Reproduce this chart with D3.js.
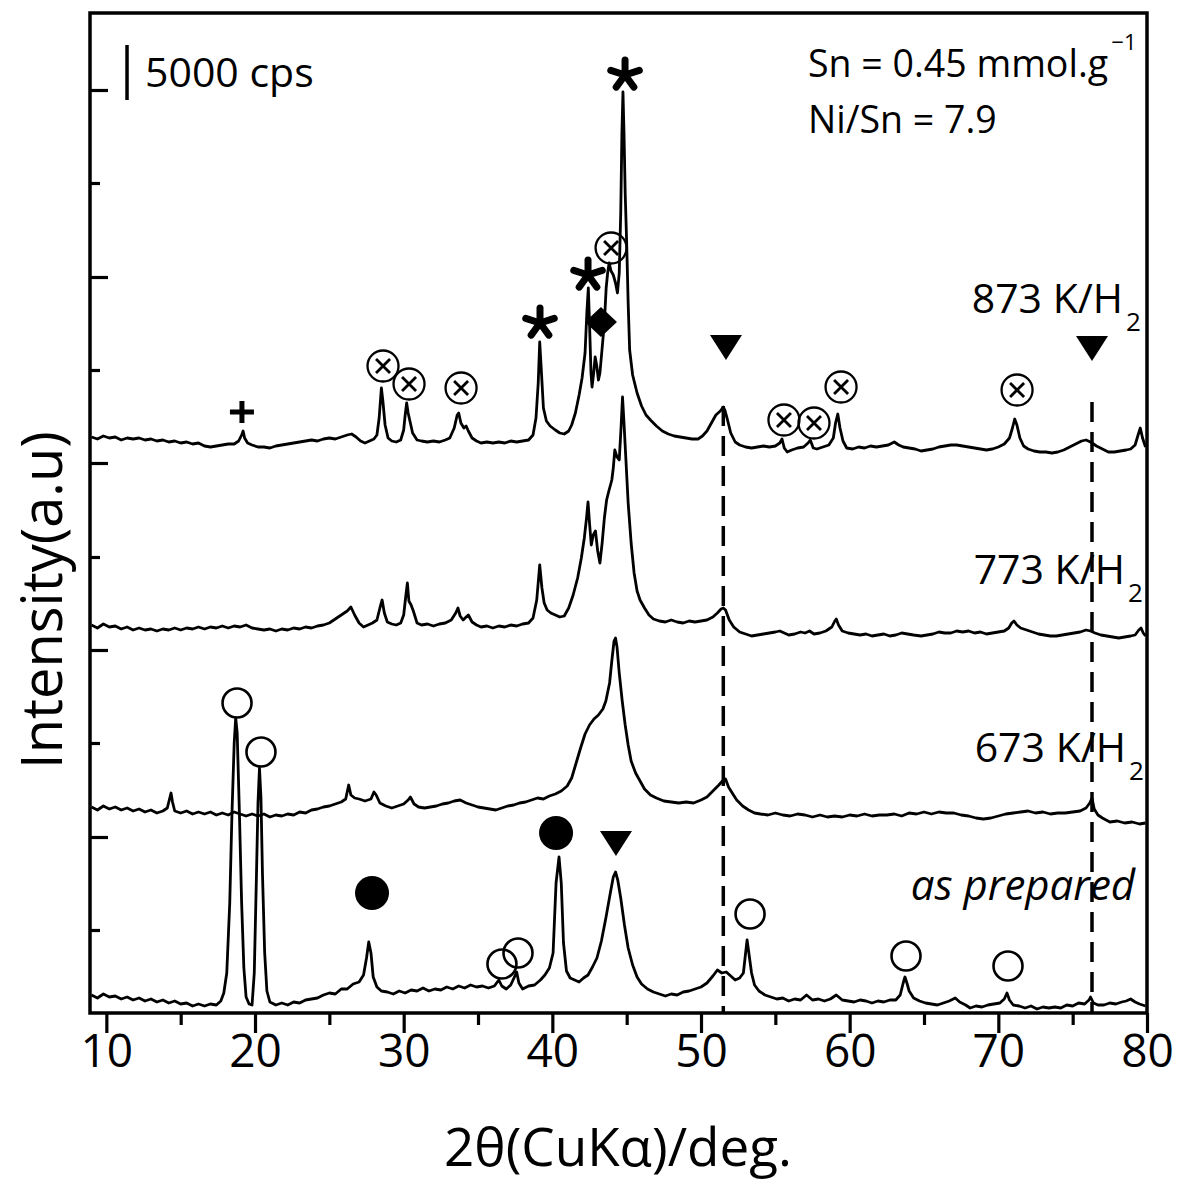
<!DOCTYPE html>
<html><head><meta charset="utf-8">
<script src="https://cdn.jsdelivr.net/npm/d3@7"></script>
<style>
body{margin:0;background:#fff}
svg{display:block}
text{font-family:"Open Sans",sans-serif;fill:#000}
</style>
</head><body>
<svg id="c" width="1182" height="1184"></svg>
<script>
// ---------------- data ----------------
const xDomain = [8.9, 80];
const yDomain = [0, 1000];
const xTicksMajor = [10, 20, 30, 40, 50, 60, 70, 80];
const xTicksMinor = [15, 25, 35, 45, 55, 65, 75];
const yTicksMajor = [176, 363, 550, 736, 923];
const yTicksMinor = [83, 270, 456, 643, 830];
const xTitle = "2θ(CuKα)/deg.";
const yTitle = "Intensity(a.u)";
const scaleBarValue = 55;            // intensity units equal to 5000 cps
const scaleBarLabel = "5000 cps";
const infoLines = ["Sn = 0.45 mmol.g", "Ni/Sn = 7.9"];

const seriesLabels = ["as prepared", "673 K/H", "773 K/H", "873 K/H"];
const labelAnchors = [[79.2, 113], [78.59, 251], [78.52, 429], [78.39, 700]];

const asPrepared = [[9.0,18],[9.4,15],[9.8,19],[10.2,16],[10.6,17],[11.0,14],[11.4,16],[11.8,13],[12.2,15],[12.6,12],[13.0,14],[13.4,11],[13.8,13],[14.2,10],[14.6,12],[15.0,9],[15.4,10],[15.8,7],[16.2,9],[16.6,7],[17.0,9],[17.4,8],[17.7,12],[17.9,20],[18.1,40],[18.3,110],[18.45,200],[18.6,270],[18.7,295],[18.8,280],[18.95,200],[19.1,110],[19.25,45],[19.4,16],[19.6,9],[19.8,8],[19.95,40],[20.1,140],[20.2,210],[20.3,245],[20.4,215],[20.5,140],[20.65,60],[20.8,22],[21.0,11],[21.4,8],[21.8,10],[22.2,8],[22.6,11],[23.0,10],[23.4,13],[23.8,14],[24.2,15],[24.6,18],[25.0,20],[25.4,19],[25.8,24],[26.2,24],[26.6,29],[27.0,31],[27.3,38],[27.5,55],[27.65,71],[27.8,60],[27.95,36],[28.2,26],[28.5,22],[28.9,21],[29.3,19],[29.7,22],[30.1,20],[30.5,23],[30.9,22],[31.3,25],[31.7,22],[32.1,24],[32.5,23],[32.9,26],[33.3,24],[33.7,27],[34.1,25],[34.5,28],[34.9,26],[35.3,27],[35.7,25],[36.1,27],[36.4,33],[36.6,27],[36.9,24],[37.2,28],[37.45,36],[37.6,41],[37.75,30],[38.0,24],[38.4,27],[38.8,28],[39.2,33],[39.5,38],[39.8,45],[40.05,60],[40.25,130],[40.45,156],[40.6,130],[40.75,70],[40.95,42],[41.2,35],[41.5,33],[41.8,31],[42.1,35],[42.4,38],[42.7,46],[43.0,55],[43.3,72],[43.6,95],[43.9,120],[44.1,136],[44.25,141],[44.4,133],[44.6,115],[44.85,88],[45.1,65],[45.4,48],[45.7,36],[46.0,29],[46.4,24],[46.8,21],[47.2,19],[47.6,17],[48.0,19],[48.4,18],[48.8,21],[49.2,22],[49.6,24],[50.0,26],[50.4,30],[50.8,37],[51.1,43],[51.4,40],[51.7,41],[52.0,37],[52.3,33],[52.6,35],[52.85,40],[53.0,60],[53.1,73],[53.2,62],[53.4,40],[53.6,28],[53.9,22],[54.3,18],[54.7,16],[55.1,14],[55.5,15],[55.9,12],[56.3,14],[56.7,13],[57.1,18],[57.5,13],[57.9,14],[58.3,12],[58.7,14],[59.1,18],[59.5,13],[59.9,12],[60.3,11],[60.7,13],[61.1,12],[61.5,10],[61.9,12],[62.3,11],[62.7,13],[63.1,13],[63.4,18],[63.6,30],[63.72,36],[63.85,30],[64.0,22],[64.3,15],[64.7,12],[65.1,10],[65.5,9],[65.9,8],[66.3,10],[66.7,12],[67.1,15],[67.4,11],[67.8,8],[68.1,5],[68.5,7],[68.9,6],[69.3,8],[69.7,9],[70.1,10],[70.4,14],[70.58,20],[70.75,13],[71.0,8],[71.4,7],[71.8,5],[72.2,7],[72.6,4],[73.0,6],[73.4,5],[73.8,6],[74.2,5],[74.6,8],[75.0,7],[75.4,10],[75.8,9],[76.1,13],[76.2,16],[76.4,10],[76.7,8],[77.1,8],[77.5,10],[77.9,9],[78.3,11],[78.6,12],[78.9,14],[79.2,11],[79.5,9],[79.9,7]];

const h673 = [[9.0,206],[9.4,203],[9.8,207],[10.2,204],[10.6,206],[11.0,203],[11.4,205],[11.8,202],[12.2,204],[12.6,201],[13.0,203],[13.4,200],[13.8,202],[14.1,205],[14.25,214],[14.35,220],[14.45,211],[14.6,202],[15.0,200],[15.4,202],[15.8,199],[16.2,201],[16.6,199],[17.0,201],[17.4,198],[17.8,200],[18.2,198],[18.6,201],[19.0,199],[19.4,197],[19.8,199],[20.2,197],[20.6,199],[21.0,196],[21.4,198],[21.8,197],[22.2,199],[22.6,198],[23.0,201],[23.4,200],[23.8,203],[24.2,204],[24.6,206],[25.0,207],[25.4,209],[25.8,211],[26.1,214],[26.3,228],[26.45,218],[26.7,215],[27.0,214],[27.4,212],[27.8,214],[28.0,221],[28.15,218],[28.4,210],[28.8,207],[29.2,205],[29.6,207],[30.0,209],[30.3,213],[30.45,216],[30.7,209],[31.0,206],[31.4,205],[31.8,206],[32.2,207],[32.6,209],[33.0,210],[33.4,212],[33.8,213],[34.2,210],[34.6,208],[35.0,206],[35.4,205],[35.8,204],[36.2,203],[36.6,205],[37.0,207],[37.4,208],[37.8,210],[38.2,211],[38.6,213],[39.0,215],[39.4,214],[39.8,217],[40.2,219],[40.6,222],[41.0,227],[41.3,235],[41.6,250],[41.9,265],[42.2,279],[42.5,288],[42.8,294],[43.1,298],[43.4,304],[43.6,312],[43.85,330],[44.0,352],[44.15,372],[44.25,375],[44.35,366],[44.5,340],[44.7,312],[44.9,288],[45.1,268],[45.3,252],[45.6,240],[45.9,232],[46.2,224],[46.6,218],[47.0,215],[47.5,212],[48.0,211],[48.5,210],[49.0,211],[49.5,210],[50.0,213],[50.4,216],[50.8,222],[51.2,228],[51.5,233],[51.65,234],[51.85,226],[52.1,220],[52.4,213],[52.8,207],[53.2,203],[53.6,200],[54.0,199],[54.5,198],[55.0,200],[55.5,198],[56.0,197],[56.5,199],[57.0,198],[57.5,196],[58.0,198],[58.5,196],[59.0,197],[59.5,196],[60.0,198],[60.5,197],[61.0,199],[61.5,197],[62.0,198],[62.5,198],[63.0,199],[63.5,197],[64.0,200],[64.5,199],[65.0,201],[65.5,199],[66.0,201],[66.5,200],[67.0,200],[67.5,198],[68.0,197],[68.5,195],[69.0,194],[69.5,195],[70.0,197],[70.5,199],[71.0,200],[71.5,201],[72.0,202],[72.5,200],[73.0,201],[73.5,199],[74.0,200],[74.5,200],[75.0,201],[75.5,202],[75.9,205],[76.15,210],[76.3,215],[76.45,204],[76.7,198],[77.0,195],[77.5,191],[78.0,192],[78.5,190],[79.0,191],[79.5,189],[79.9,190]];

const h773 = [[9.0,388],[9.4,385],[9.8,389],[10.2,386],[10.6,387],[11.0,384],[11.4,386],[11.8,383],[12.2,385],[12.6,383],[13.0,384],[13.4,382],[13.8,384],[14.2,383],[14.6,385],[15.0,383],[15.4,385],[15.8,384],[16.2,386],[16.6,384],[17.0,386],[17.4,385],[17.8,387],[18.2,385],[18.6,387],[19.0,386],[19.4,388],[19.8,385],[20.2,384],[20.6,383],[21.0,384],[21.4,382],[21.8,384],[22.2,383],[22.6,385],[23.0,384],[23.4,386],[23.8,385],[24.2,387],[24.6,388],[25.0,390],[25.3,393],[25.6,396],[25.9,399],[26.2,402],[26.45,406],[26.7,398],[27.0,390],[27.3,386],[27.6,388],[27.9,390],[28.2,393],[28.4,405],[28.55,413],[28.7,400],[28.9,391],[29.2,389],[29.5,388],[29.8,390],[30.0,398],[30.15,418],[30.25,430],[30.35,412],[30.5,408],[30.65,402],[30.9,390],[31.2,388],[31.6,389],[32.0,387],[32.4,389],[32.8,390],[33.2,393],[33.5,400],[33.65,405],[33.8,397],[34.0,393],[34.2,396],[34.35,398],[34.6,391],[34.9,388],[35.2,386],[35.6,387],[36.0,385],[36.4,387],[36.8,386],[37.2,388],[37.6,387],[38.0,389],[38.4,390],[38.7,395],[38.95,413],[39.15,448],[39.3,425],[39.45,410],[39.65,403],[39.9,400],[40.2,398],[40.5,396],[40.8,397],[41.1,405],[41.4,418],[41.7,435],[41.95,455],[42.15,475],[42.3,495],[42.4,511],[42.5,490],[42.62,468],[42.75,478],[42.9,482],[43.05,462],[43.2,450],[43.35,470],[43.5,495],[43.65,513],[43.8,522],[44.0,533],[44.1,545],[44.2,563],[44.35,556],[44.5,553],[44.62,585],[44.72,616],[44.82,590],[44.95,553],[45.1,510],[45.3,470],[45.5,440],[45.7,422],[45.9,413],[46.2,405],[46.5,398],[46.8,394],[47.2,392],[47.6,391],[48.0,393],[48.4,391],[48.8,390],[49.2,392],[49.6,391],[50.0,392],[50.4,393],[50.8,396],[51.1,400],[51.35,404],[51.5,405],[51.65,403],[51.9,393],[52.2,386],[52.6,381],[53.0,379],[53.4,377],[53.8,378],[54.2,379],[54.6,380],[55.0,381],[55.3,382],[55.6,380],[55.9,378],[56.3,379],[56.7,381],[57.0,380],[57.3,382],[57.6,379],[58.0,380],[58.4,382],[58.8,386],[59.0,392],[59.1,394],[59.25,388],[59.5,382],[59.9,380],[60.3,379],[60.7,378],[61.1,379],[61.5,377],[61.9,378],[62.3,379],[62.7,377],[63.1,378],[63.5,380],[63.9,379],[64.3,378],[64.8,377],[65.2,378],[65.6,379],[66.0,381],[66.4,380],[66.8,380],[67.2,382],[67.6,381],[68.0,382],[68.4,380],[68.8,381],[69.2,379],[69.6,380],[70.0,381],[70.4,382],[70.7,385],[70.9,390],[71.05,392],[71.25,388],[71.5,385],[71.9,383],[72.3,381],[72.7,379],[73.1,378],[73.5,377],[73.9,377],[74.3,378],[74.7,379],[75.1,380],[75.5,381],[75.9,383],[76.2,382],[76.5,380],[76.9,378],[77.3,377],[77.7,376],[78.1,375],[78.5,376],[78.9,377],[79.2,378],[79.45,383],[79.6,385],[79.75,380],[79.9,377]];

const h873 = [[9.0,576],[9.4,574],[9.8,577],[10.2,575],[10.6,576],[11.0,573],[11.4,575],[11.8,574],[12.2,575],[12.6,573],[13.0,574],[13.4,572],[13.8,573],[14.2,571],[14.6,572],[15.0,570],[15.4,571],[15.8,569],[16.2,570],[16.6,567],[17.0,566],[17.4,567],[17.8,568],[18.2,569],[18.6,569],[18.9,572],[19.1,578],[19.2,582],[19.3,575],[19.5,570],[19.8,568],[20.2,566],[20.6,566],[21.0,565],[21.4,567],[21.8,568],[22.2,569],[22.6,570],[23.0,571],[23.4,572],[23.8,573],[24.2,572],[24.6,574],[25.0,575],[25.4,574],[25.8,576],[26.2,578],[26.5,579],[26.8,576],[27.1,572],[27.4,570],[27.7,572],[28.0,574],[28.2,578],[28.35,595],[28.5,625],[28.6,612],[28.75,588],[28.95,575],[29.2,572],[29.5,571],[29.8,573],[30.0,583],[30.1,598],[30.2,610],[30.3,600],[30.45,590],[30.6,580],[30.9,573],[31.2,572],[31.6,571],[32.0,572],[32.4,571],[32.8,573],[33.1,575],[33.4,585],[33.6,598],[33.7,600],[33.85,590],[34.05,585],[34.2,587],[34.35,582],[34.6,575],[34.9,572],[35.2,570],[35.6,571],[36.0,570],[36.4,571],[36.8,570],[37.2,572],[37.6,571],[38.0,572],[38.4,573],[38.7,578],[38.9,595],[39.05,630],[39.15,671],[39.25,645],[39.4,605],[39.6,592],[39.85,587],[40.2,583],[40.5,580],[40.8,579],[41.1,582],[41.3,588],[41.55,600],[41.8,618],[42.0,635],[42.2,660],[42.32,700],[42.42,725],[42.5,690],[42.6,640],[42.67,626],[42.78,640],[42.88,656],[42.98,648],[43.1,633],[43.2,640],[43.35,665],[43.5,690],[43.62,725],[43.72,740],[43.82,750],[43.95,742],[44.1,738],[44.25,730],[44.38,720],[44.5,740],[44.6,800],[44.68,880],[44.75,921],[44.82,880],[44.9,820],[45.0,770],[45.1,710],[45.2,663],[45.4,638],[45.7,620],[46.0,607],[46.3,598],[46.6,593],[47.0,587],[47.4,582],[47.8,579],[48.2,577],[48.6,576],[49.0,575],[49.4,574],[49.8,574],[50.1,577],[50.4,582],[50.7,590],[51.0,598],[51.3,602],[51.5,606],[51.6,603],[51.75,595],[52.0,580],[52.3,571],[52.6,568],[53.0,566],[53.4,565],[53.8,566],[54.2,567],[54.6,566],[55.0,567],[55.3,570],[55.45,574],[55.6,565],[55.8,561],[56.1,563],[56.5,565],[56.9,566],[57.2,570],[57.35,573],[57.55,565],[57.8,564],[58.2,566],[58.6,568],[58.9,575],[59.05,590],[59.2,599],[59.35,585],[59.55,572],[59.8,565],[60.2,564],[60.6,566],[61.0,565],[61.4,567],[61.8,566],[62.2,567],[62.6,568],[63.0,571],[63.3,568],[63.6,566],[64.0,565],[64.4,564],[64.8,562],[65.2,563],[65.6,564],[66.0,566],[66.4,567],[66.8,568],[67.2,568],[67.6,567],[68.0,566],[68.4,565],[68.8,564],[69.2,563],[69.6,564],[70.0,566],[70.4,569],[70.75,575],[70.95,585],[71.1,594],[71.25,588],[71.45,575],[71.7,567],[72.0,564],[72.4,562],[72.8,561],[73.2,561],[73.6,560],[74.0,561],[74.4,563],[74.8,566],[75.2,569],[75.6,572],[75.9,573],[76.2,571],[76.6,567],[77.0,564],[77.4,561],[77.8,561],[78.2,562],[78.6,563],[78.9,564],[79.2,568],[79.4,578],[79.55,585],[79.7,575],[79.9,566]];

// phase markers [2theta, intensity]
const plusMarks = [[19.12, 601]];
const crossCircleMarks = [[28.61,647],[30.36,629],[33.86,625],[43.95,765],[55.58,593],[57.60,590],[59.42,626],[71.26,623]];
const starMarks = [[39.17,690],[42.40,738],[44.89,938]];
const diamondMarks = [[43.27,691]];
const triangleMarks = [[51.68,666],[76.30,665],[44.28,170]];
const openCircleMarks = [[18.79,310],[20.40,261],[36.61,49],[37.69,60],[53.30,99],[63.79,57],[70.65,47]];
const filledCircleMarks = [[27.87,120],[40.25,180]];
const dashedLines = [[51.5, 607], [76.3, 611]];

// ---------------- drawing ----------------
const svg = d3.select("#c");
const L = 90, R = 1147, T = 13, B = 1013;
const x = d3.scaleLinear().domain(xDomain).range([L, R]);
const y = d3.scaleLinear().domain(yDomain).range([B, T]);

svg.append("defs").append("clipPath").attr("id","clip")
  .append("rect").attr("x",L).attr("y",T).attr("width",R-L).attr("height",B-T);

// dashed reference lines
svg.append("g").selectAll("line").data(dashedLines).join("line")
  .attr("x1",d=>x(d[0])).attr("x2",d=>x(d[0]))
  .attr("y1",d=>y(d[1])).attr("y2",y(0))
  .attr("stroke","#000").attr("stroke-width",3.5).attr("stroke-dasharray","20,10");

// traces
const line = d3.line().x(d=>x(d[0])).y(d=>y(d[1]));
svg.append("g").attr("clip-path","url(#clip)")
  .selectAll("path").data([asPrepared,h673,h773,h873]).join("path")
  .attr("d",line).attr("fill","none").attr("stroke","#000")
  .attr("stroke-width",2.8).attr("stroke-linejoin","round");

// axes
const gx = svg.append("g").attr("transform",`translate(0,${B})`);
gx.call(d3.axisBottom(x).tickValues(xTicksMajor).tickSize(20).tickPadding(1).tickFormat(d3.format("d")));
const gx2 = svg.append("g").attr("transform",`translate(0,${B})`);
gx2.call(d3.axisBottom(x).tickValues(xTicksMinor).tickSize(12).tickFormat(""));
const gy = svg.append("g").attr("transform",`translate(${L},0)`);
gy.call(d3.axisLeft(y).tickValues(yTicksMajor).tickSize(-18).tickFormat(""));
const gy2 = svg.append("g").attr("transform",`translate(${L},0)`);
gy2.call(d3.axisLeft(y).tickValues(yTicksMinor).tickSize(-10).tickFormat(""));
[gx,gx2,gy,gy2].forEach(g=>{
  g.select(".domain").remove();
  g.selectAll(".tick line").attr("stroke","#000").attr("stroke-width",3.2);
});
gx.selectAll(".tick text").attr("font-size",46).attr("font-family","Open Sans, sans-serif").attr("fill","#000");

// frame
svg.append("rect").attr("x",L).attr("y",T).attr("width",R-L).attr("height",B-T)
  .attr("fill","none").attr("stroke","#000").attr("stroke-width",3.5);

// axis titles
svg.append("text").attr("x",618).attr("y",1166).attr("text-anchor","middle")
  .attr("font-size",53).text(xTitle);
svg.append("text").attr("transform",`translate(62,600) rotate(-90)`)
  .attr("text-anchor","middle").attr("font-size",56).text(yTitle);

// scale bar
const sbX = x(11.39);
svg.append("line").attr("x1",sbX).attr("x2",sbX).attr("y1",y(968)).attr("y2",y(968-scaleBarValue))
  .attr("stroke","#000").attr("stroke-width",3.5);
svg.append("text").attr("x",sbX+18).attr("y",y(926)).attr("font-size",41).text(scaleBarLabel);

// info text
const info = svg.append("g");
info.append("text").attr("x",x(57.2)).attr("y",y(936)).attr("font-size",37.5).text(infoLines[0]);
info.append("text").attr("x",x(77.6)).attr("y",y(963)).attr("font-size",22).text("\u22121");
info.append("text").attr("x",x(57.2)).attr("y",y(880)).attr("font-size",37.5).text(infoLines[1]);

// series labels
const lab = svg.append("g");
seriesLabels.forEach((s,i)=>{
  const [lx,ly] = labelAnchors[i];
  if (i===0) {
    lab.append("text").attr("x",x(lx)).attr("y",y(ly)).attr("text-anchor","end")
      .attr("font-size",42).attr("font-style","italic").text(s);
  } else {
    lab.append("text").attr("x",x(lx)).attr("y",y(ly)).attr("text-anchor","end")
      .attr("font-size",41).text(s);
    lab.append("text").attr("x",x(lx)+3).attr("y",y(ly)+18).attr("font-size",26).text("2");
  }
});

// markers
const mk = svg.append("g");
mk.selectAll(".oc").data(openCircleMarks).join("circle")
  .attr("cx",d=>x(d[0])).attr("cy",d=>y(d[1])).attr("r",14.5)
  .attr("fill","none").attr("stroke","#000").attr("stroke-width",2.6);
mk.selectAll(".fc").data(filledCircleMarks).join("circle").attr("class","fc")
  .attr("cx",d=>x(d[0])).attr("cy",d=>y(d[1])).attr("r",17).attr("fill","#000");
const cc = mk.selectAll(".cc").data(crossCircleMarks).join("g").attr("class","cc")
  .attr("transform",d=>`translate(${x(d[0])},${y(d[1])})`);
cc.append("circle").attr("r",15.5).attr("fill","none").attr("stroke","#000").attr("stroke-width",2.3);
cc.append("path").attr("d","M-7,-7L7,7M7,-7L-7,7").attr("stroke","#000").attr("stroke-width",2.8);
mk.selectAll(".tri").data(triangleMarks).join("path").attr("class","tri")
  .attr("transform",d=>`translate(${x(d[0])},${y(d[1])})`)
  .attr("d","M-16,-12L16,-12L0,13Z").attr("fill","#000");
mk.selectAll(".dia").data(diamondMarks).join("path").attr("class","dia")
  .attr("transform",d=>`translate(${x(d[0])},${y(d[1])})`)
  .attr("d","M0,-15L16,0L0,15L-16,0Z").attr("fill","#000");
mk.selectAll(".plus").data(plusMarks).join("path").attr("class","plus")
  .attr("transform",d=>`translate(${x(d[0])},${y(d[1])})`)
  .attr("d","M-12,0L12,0M0,-11L0,11").attr("stroke","#000").attr("stroke-width",5);
const armAngles = [0,72,144,216,288];
const starPath = armAngles.map(a=>{
  const r = a*Math.PI/180; return `M0,0L${(15*Math.sin(r)).toFixed(2)},${(-15*Math.cos(r)).toFixed(2)}`;
}).join("");
mk.selectAll(".star").data(starMarks).join("path").attr("class","star")
  .attr("transform",d=>`translate(${x(d[0])},${y(d[1])})`)
  .attr("d",starPath).attr("stroke","#000").attr("stroke-width",7).attr("stroke-linecap","round");
</script>
</body></html>
